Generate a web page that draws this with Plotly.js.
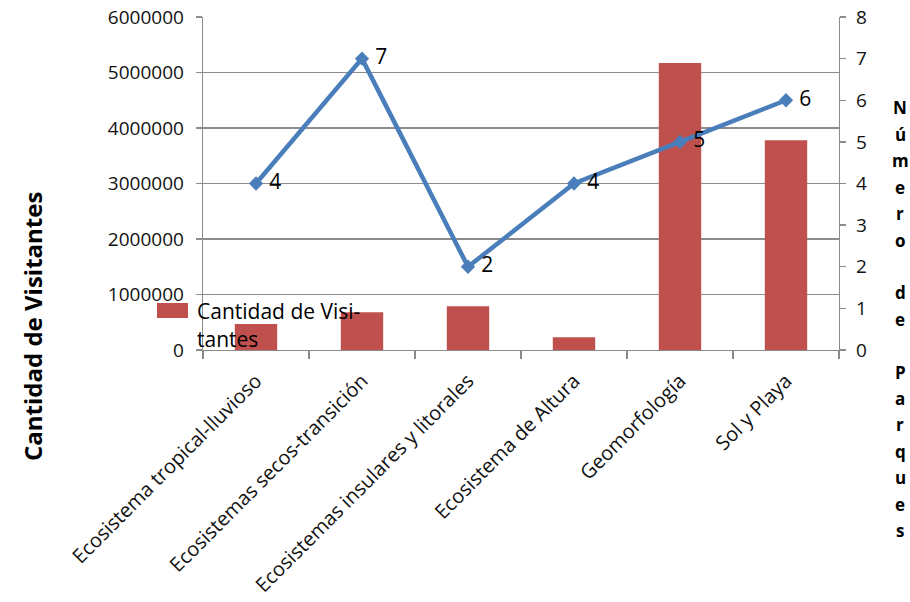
<!DOCTYPE html>
<html>
<head>
<meta charset="utf-8">
<script src="https://cdn.plot.ly/plotly-3.0.1.min.js"></script>
<style>html,body{margin:0;padding:0;background:#fff;}#chart{width:910px;height:602px;}</style>
</head>
<body>
<div id="chart"></div>
<script>
const categories = ["Ecosistema tropical-lluvioso", "Ecosistemas secos-transición", "Ecosistemas insulares y litorales", "Ecosistema de Altura", "Geomorfología", "Sol y Playa"];
const visitantes = [470000, 680000, 790000, 230000, 5170000, 3780000];
const parques = [4, 7, 2, 4, 5, 6];
const barName = "Cantidad de Visi-<br>tantes";
const leftTitle = "Cantidad de Visitantes";
const rightTitle = "Número de Parques";

const FONT = "Open Sans, Liberation Sans, sans-serif";
const gridColor = "#8c8c8c";
const barColor = "#C0504D";

const traces = [
  {
    type: "bar", x: categories, y: visitantes, name: barName,
    marker: {color: barColor}, width: 0.4, yaxis: "y", showlegend: true
  },
  {
    type: "scatter", mode: "lines+markers+text", x: categories, y: parques, yaxis: "y2",
    line: {color: "#4A7EBB", width: 4.5},
    marker: {symbol: "diamond", size: 11, color: "#4A7EBB"},
    text: parques.map(String), texttemplate: " %{text}", textposition: "middle right",
    textfont: {family: FONT, size: 21, color: "#000"},
    showlegend: false, cliponaxis: false
  }
];

// plot area in pixels: x 203..839, y 17..350
const pL = 203, pW = 636, pTop = 17, pBot = 350, pH = pBot - pTop;
const px = v => (v - pL) / pW;
const py = v => (pBot - v) / pH;

const annotations = [{
  text: "<b>" + leftTitle + "</b>", xref: "paper", yref: "paper",
  x: px(32), y: py(327), textangle: -90, showarrow: false,
  font: {family: FONT, size: 24, color: "#000"}, xanchor: "center", yanchor: "middle"
}];
Array.from(rightTitle).forEach((ch, i) => {
  if (ch === " ") return;
  annotations.push({
    text: "<b>" + ch + "</b>", xref: "paper", yref: "paper",
    x: px(900), y: py(108 + i * 26.4), showarrow: false,
    font: {family: FONT, size: 17, color: "#000"}, xanchor: "center", yanchor: "middle"
  });
});

const layout = {
  width: 910, height: 602,
  margin: {l: 203, r: 71, t: 17, b: 252},
  paper_bgcolor: "#fff", plot_bgcolor: "#fff",
  font: {family: FONT, size: 19, color: "#111"},
  xaxis: {
    type: "category", tickangle: -45, showgrid: false, showline: true, linecolor: gridColor, linewidth: 1.3,
    ticks: "outside", tickson: "boundaries", ticklen: 8, tickcolor: gridColor, tickwidth: 1.3,
    tickfont: {family: FONT, size: 20, color: "#111"}, zeroline: false, ticklabelstandoff: 10
  },
  yaxis: {
    range: [0, 6000000], dtick: 1000000, tickformat: "d", showgrid: true, gridcolor: gridColor, gridwidth: 1.3,
    showline: true, linecolor: gridColor, linewidth: 1.3, ticks: "outside", ticklen: 6, tickcolor: gridColor,
    tickwidth: 1.3, zeroline: false, tickfont: {family: FONT, size: 19, color: "#111"}, ticklabelstandoff: 8
  },
  yaxis2: {
    overlaying: "y", side: "right", range: [0, 8], dtick: 1, showgrid: false, showline: true,
    linecolor: gridColor, linewidth: 1.3, ticks: "outside", ticklen: 6, tickcolor: gridColor, tickwidth: 1.3,
    zeroline: false, tickfont: {family: FONT, size: 19, color: "#111"}, ticklabelstandoff: 6
  },
  legend: {
    x: px(157), y: py(291), xanchor: "left", yanchor: "top", valign: "top",
    bgcolor: "rgba(0,0,0,0)", font: {family: FONT, size: 21, color: "#000"}, itemwidth: 30
  },
  shapes: [{
    type: "rect", xref: "paper", yref: "paper", layer: "above",
    x0: px(157), x1: px(188), y0: py(318), y1: py(303),
    fillcolor: barColor, line: {width: 0}
  }],
  annotations: annotations,
  showlegend: true
};

Plotly.newPlot("chart", traces, layout, {displayModeBar: false, staticPlot: true});
</script>
</body>
</html>
